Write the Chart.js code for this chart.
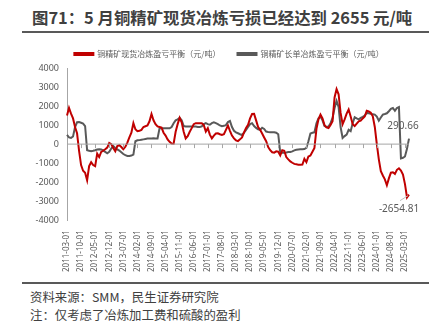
<!DOCTYPE html>
<html>
<head>
<meta charset="utf-8">
<script src="https://cdn.jsdelivr.net/npm/chart.js@4.4.1/dist/chart.umd.min.js"></script>
<style>
  body { margin: 0; width: 440px; height: 325px; background: #fff; position: relative; overflow: hidden;
         font-family: "Noto Sans CJK SC", "Noto Sans", sans-serif; }
  #title { position: absolute; left: 32px; top: 5px; font-size: 16.4px; font-weight: bold; color: #404040; white-space: nowrap; }
  .rule { position: absolute; left: 22px; width: 407px; height: 2px; background: #595959; }
  #box { position: absolute; left: 0; top: 33px; width: 440px; height: 241px; }
  .note { position: absolute; left: 30px; font-size: 12.4px; color: #404040; white-space: nowrap; }
</style>
</head>
<body>
<div id="title">图71：5 月铜精矿现货冶炼亏损已经达到 2655 元/吨</div>
<div class="rule" style="top:31px"></div>
<div id="box"><canvas id="myChart"></canvas></div>
<div class="rule" style="top:282px"></div>
<div class="note" style="top:288px">资料来源：SMM，民生证券研究院</div>
<div class="note" style="top:306px">注：仅考虑了冶炼加工费和硫酸的盈利</div>
<script>
// months 2011-03 .. 2025-05
var months = [];
for (var y = 2011; y <= 2025; y++) {
  for (var m = 1; m <= 12; m++) {
    if ((y === 2011 && m < 3) || (y === 2025 && m > 5)) continue;
    months.push(y + '-' + (m < 10 ? '0' + m : m) + '-01');
  }
}

var spotName = '铜精矿现货冶炼盈亏平衡（元/吨）';
var longName = '铜精矿长单冶炼盈亏平衡（元/吨）';

var spotVals = [
  1500, 1900, 1600, 1350, 900, 570, -350, -1100, -1400, -1500,
  -1900, -1150, -950, -1100, -1160, -500, -680, -410, -350, -270,
  -180, 60, 0, -200, -370, -100, -60, -150, -270, -140,
  80, 350, 600, 1100, 780, 680, 700, 750, 900, 940,
  980, 1200, 1580, 1250, 1050, 930, 900, 870, 600, 450,
  250, 120, 35, 20, 650, 1050, 1380, 1150, 650, 300,
  420, 650, 840, 1050, 1100, 1100, 1100, 1100, 1000, 660,
  840, 500, 300, 450, 560, 570, 520, 480, 520, 750,
  980, 700, 450, 300, 200, 160, 250, 350, 620, 850,
  1020, 1350, 1580, 1590, 1250, 900, 750, 560, 350, 150,
  -150, -320, -430, -450, -380, -400, -590, -320, -350, -680,
  -800, -910, -980, -1040, -1060, -1080, -1090, -1080, -770, -950,
  -650, -600, -400, -200, 800, 1300, 1550, 1350, 1000, 880,
  840, 1000, 1200, 2450, 2890, 2620, 1640, 1050, 1300, 1600,
  1820, 1450, 1050, 950, 1080, 1200, 1230, 1350, 1450, 1750,
  1720, 1650, 1460, 900, 0, -800, -1420, -1650, -1850, -2160,
  -1800, -1500, -1480, -1570, -1350, -1270, -1390, -1600, -2100, -2800,
  -2654.81
];

var longVals = [
  480, 350, 330, 400, 900, 1150, 1160, 1120, 1080, 950,
  -320, -350, -370, -350, -320, -280, -270, -280, -330, -410,
  -480, -400, -230, -100, -200, -280, -340, -430, -520, -580,
  -620, -620, -600, -550, 150, 200, 210, 230, 250, 270,
  290, 300, 300, 310, 300, 300, 830, 840, 830, 830,
  830, 830, 900, 1100, 1250, 1300, 1380, 1250, 950, 930,
  920, 920, 920, 920, 920, 900, 900, 930, 1050, 1100,
  1050, 1020, 1100, 1140, 1100, 1050, 980, 940, 960, 1000,
  1160, 1220, 900, 700, 620, 570, 520, 480, 600, 750,
  900, 1050, 1100, 950, 850, 780, 750, 860, 800, 660,
  640, 630, 630, 625, 600, 520, -450, -450, -450, -440,
  -420, -410, -380, -330, -300, -280, -270, -270, -260, -200,
  150, 560, 600, 620, 1100, 1350, 1450, 1250, 950, 900,
  930, 1100, 1380, 1900, 2270, 1950, 900, 320, 420, 500,
  750, 680, 1100, 1410, 1350, 1300, 1380, 1430, 1500, 1640,
  1620, 1590, 1570, 1550, 1450, 1230, 1400, 1550, 1580, 1620,
  1730, 1850, 1900, 1750, 1900, 1950, -750, -720, -650, -250,
  290.66
];

var yTicks = [-4000, -3000, -2000, -1000, 0, 1000, 2000, 3000, 4000];
var tickEvery = 7;

var red = '#C00000';
var grey = '#595959';
var axisGrey = '#A6A6A6';

// y labels are mirrored (so they are not clipped) and pushed back left of the axis
var yFont = '9px "Noto Sans", sans-serif';
var mc = document.createElement('canvas').getContext('2d');
mc.font = yFont;
var yWidest = Math.max.apply(null, yTicks.map(function(v) { return mc.measureText(String(v)).width; }));

// zero line with tick marks + end-value labels
var extras = {
  id: 'extras',
  afterDatasetsDraw: function(chart) {
    var ctx = chart.ctx;
    var xs = chart.scales.x, ys = chart.scales.y;
    var y0 = ys.getPixelForValue(0);
    ctx.save();
    ctx.strokeStyle = axisGrey;
    ctx.lineWidth = 1;
    ctx.beginPath();
    ctx.moveTo(chart.chartArea.left, y0);
    ctx.lineTo(chart.chartArea.right, y0);
    for (var i = 0; i < months.length; i += tickEvery) {
      var px = Math.round(xs.getPixelForValue(i)) + 0.5;
      ctx.moveTo(px, y0);
      ctx.lineTo(px, y0 + 4);
    }
    ctx.stroke();

    var last = months.length - 1;
    var gx = xs.getPixelForValue(last), gy = ys.getPixelForValue(longVals[last]);
    var rx = xs.getPixelForValue(last), ry = ys.getPixelForValue(spotVals[last]);
    ctx.fillStyle = grey;
    ctx.font = '10px "Noto Sans", sans-serif';
    ctx.textAlign = 'center';
    ctx.textBaseline = 'middle';
    ctx.fillText(longVals[last].toFixed(2), gx - 6, gy - 12);
    ctx.fillText(spotVals[last].toFixed(2), rx - 10, ry + 15);
    ctx.strokeStyle = '#BFBFBF';
    ctx.beginPath();
    ctx.moveTo(rx - 9, ry + 6);
    ctx.lineTo(rx - 1, ry + 1);
    ctx.stroke();
    ctx.restore();
  }
};

var ctx = document.getElementById('myChart');
var myChart = new Chart(ctx, {
  type: 'line',
  data: {
    labels: months,
    datasets: [{
      label: spotName,
      data: spotVals,
      borderColor: red,
      backgroundColor: red,
      borderWidth: 2,
      pointRadius: 0,
      tension: 0
    }, {
      label: longName,
      data: longVals,
      borderColor: grey,
      backgroundColor: grey,
      borderWidth: 2,
      pointRadius: 0,
      tension: 0
    }]
  },
  options: {
    responsive: true,
    maintainAspectRatio: false,
    animation: false,
    layout: { padding: { left: 49, right: 31, top: 0, bottom: 0 } },
    plugins: {
      legend: {
        position: 'top',
        labels: {
          boxWidth: 19,
          boxHeight: 2,
          padding: 17,
          color: grey,
          font: { size: 8, family: '"Noto Sans CJK SC", sans-serif' }
        }
      },
      tooltip: { enabled: false }
    },
    scales: {
      x: {
        grid: { display: false },
        border: { display: false },
        ticks: {
          autoSkip: false,
          maxRotation: 90,
          minRotation: 90,
          padding: 2,
          color: grey,
          font: { size: 8, family: '"Noto Sans", sans-serif' },
          callback: function(v, i) { return i % tickEvery === 0 ? months[i] : null; }
        }
      },
      y: {
        min: -4000,
        max: 4000,
        afterBuildTicks: function(s) { s.ticks = yTicks.map(function(v) { return { value: v }; }); },
        afterFit: function(s) { s.width = 18; },
        grid: { display: false },
        border: { display: true, color: axisGrey, width: 1 },
        ticks: {
          mirror: true,
          crossAlign: 'far',
          padding: -8 - yWidest,
          color: grey,
          font: { size: 9, family: '"Noto Sans", sans-serif' },
          callback: function(v) { return String(v); }
        }
      }
    }
  },
  plugins: [extras]
});
</script>
</body>
</html>
